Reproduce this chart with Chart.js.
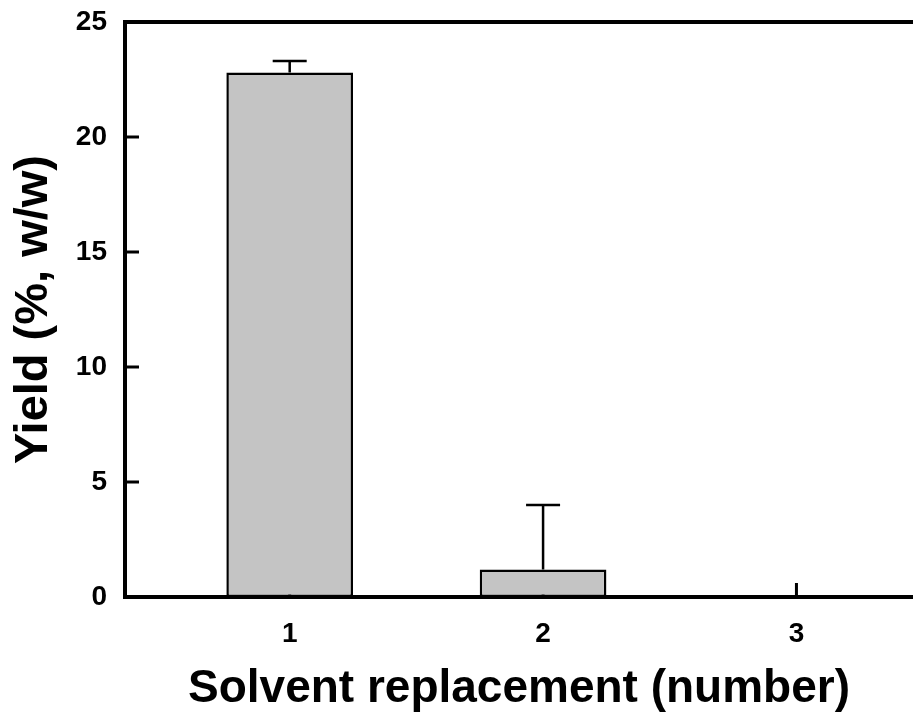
<!DOCTYPE html>
<html lang="en">
<head>
<meta charset="UTF-8">
<title>Yield vs solvent replacement</title>
<script src="https://cdn.jsdelivr.net/npm/chart.js"></script>
<style>
    body { margin: 0; background: #fff; }
    #wrap { width: 913px; height: 721px; }
</style>
</head>
<body>
<div id="wrap"><canvas id="chart"></canvas></div>
<script>
// data
const replacements = [1, 2, 3];
const yieldValues = [22.8, 1.2, 0];
const yieldErrors = [0.5, 2.8, 0];
const yTicks = [0, 5, 10, 15, 20, 25];

const FONT = '"Liberation Sans", Arial, sans-serif';

// inward tick marks (drawn before the bars so the bars cover them)
const innerTicks = {
    id: 'innerTicks',
    beforeDatasetsDraw(chart) {
        const { ctx, chartArea, scales: { x, y } } = chart;
        ctx.save();
        ctx.strokeStyle = '#000';
        ctx.lineWidth = 3;
        ctx.beginPath();
        yTicks.forEach(v => {
            const py = y.getPixelForValue(v);
            ctx.moveTo(chartArea.left, py);
            ctx.lineTo(chartArea.left + 14, py);
        });
        replacements.forEach(v => {
            const px = x.getPixelForValue(v);
            ctx.moveTo(px, chartArea.bottom);
            ctx.lineTo(px, chartArea.bottom - 14);
        });
        ctx.stroke();
        // top frame line
        ctx.lineWidth = 4;
        ctx.beginPath();
        ctx.moveTo(chartArea.left - 2, chartArea.top);
        ctx.lineTo(chartArea.right, chartArea.top);
        ctx.stroke();
        ctx.restore();
    }
};

// upper error bars
const errorBars = {
    id: 'errorBars',
    afterDatasetsDraw(chart) {
        const { ctx, scales: { x, y } } = chart;
        ctx.save();
        ctx.strokeStyle = '#000';
        ctx.lineWidth = 2.5;
        replacements.forEach((r, i) => {
            if (!yieldErrors[i]) return;
            const px = x.getPixelForValue(r);
            const top = y.getPixelForValue(yieldValues[i]);
            const hi = y.getPixelForValue(yieldValues[i] + yieldErrors[i]);
            ctx.beginPath();
            ctx.moveTo(px, top);
            ctx.lineTo(px, hi);
            ctx.moveTo(px - 17, hi);
            ctx.lineTo(px + 17, hi);
            ctx.stroke();
        });
        ctx.restore();
    }
};

const ctx = document.getElementById('chart').getContext('2d');
new Chart(ctx, {
    type: 'bar',
    data: {
        datasets: [{
            data: replacements.map((r, i) => ({ x: r, y: yieldValues[i] })),
            backgroundColor: '#c4c4c4',
            borderColor: '#000',
            borderWidth: 2.5,
            borderSkipped: false,
            categoryPercentage: 0.5,
            barPercentage: 1
        }]
    },
    options: {
        responsive: true,
        maintainAspectRatio: false,
        animation: false,
        layout: { padding: { top: 22, right: 0, bottom: 0, left: 0 } },
        plugins: {
            legend: { display: false },
            tooltip: { enabled: false }
        },
        scales: {
            x: {
                type: 'linear',
                offset: false,
                min: 0.35,
                max: 3.46,
                afterBuildTicks: s => { s.ticks = replacements.map(v => ({ value: v })); },
                afterFit: s => { s.height = 124; s.paddingLeft = 0; s.paddingRight = 0; },
                grid: { display: false, drawTicks: false, offset: false },
                border: { display: true, color: '#000', width: 4 },
                ticks: {
                    color: '#000',
                    padding: 20,
                    font: { family: FONT, size: 28, weight: 'bold' }
                },
                title: {
                    display: true,
                    text: 'Solvent replacement (number)',
                    color: '#000',
                    padding: { top: 0, bottom: 4 },
                    font: { family: FONT, size: 46, weight: 'bold' }
                }
            },
            y: {
                min: 0,
                max: 25,
                afterBuildTicks: s => { s.ticks = yTicks.map(v => ({ value: v })); },
                afterFit: s => { s.width = 125; s.paddingTop = 0; s.paddingBottom = 0; },
                grid: { display: false, drawTicks: false },
                border: { display: true, color: '#000', width: 4 },
                ticks: {
                    color: '#000',
                    padding: 18,
                    font: { family: FONT, size: 28, weight: 'bold' }
                },
                title: {
                    display: true,
                    text: 'Yield (%, w/w)',
                    color: '#000',
                    padding: { top: 6, bottom: 0 },
                    font: { family: FONT, size: 47, weight: 'bold' }
                }
            }
        }
    },
    plugins: [innerTicks, errorBars]
});
</script>
</body>
</html>
